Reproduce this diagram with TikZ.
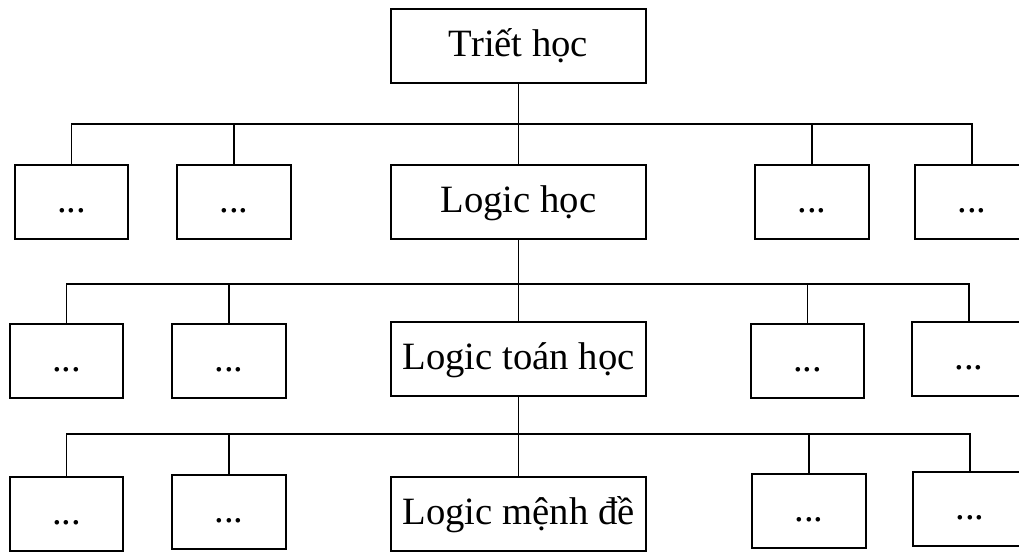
\documentclass[tikz,border=0pt]{standalone}
\usepackage{fontspec}
\setmainfont{Liberation Serif}
\begin{document}
\begin{tikzpicture}[x=0.75pt,y=-0.75pt,
  box/.style={draw, line width=1.4pt, minimum height=55.5pt, inner sep=0pt,
              text height=20pt, text depth=4pt,
              font=\fontsize{29}{33}\selectfont},
  mainbox/.style={box, minimum width=191.25pt},
  smallbox/.style={box, minimum width=85pt},
  link/.style={line width=1.4pt}]
\useasboundingbox (0,0) rectangle (1019,551);
\clip (0,0) rectangle (1019,551);
% level 0
\node[mainbox] (triet) at (518.5,46) {Triết học};
% level 1
\node[mainbox] (lh) at (518.5,202) {Logic học};
\node[smallbox] (a1) at (71.5,202) {...};
\node[smallbox] (a2) at (234,202) {...};
\node[smallbox] (a4) at (812,202) {...};
\node[smallbox] (a5) at (972,202) {...};
% level 2
\node[mainbox] (lt) at (518.5,359) {Logic toán học};
\node[smallbox] (b1) at (66.5,361) {...};
\node[smallbox] (b2) at (229,361) {...};
\node[smallbox] (b4) at (807.5,361) {...};
\node[smallbox] (b5) at (969,359) {...};
% level 3
\node[mainbox] (lm) at (518.5,514) {Logic mệnh đề};
\node[smallbox] (c1) at (66.5,514) {...};
\node[smallbox] (c2) at (229,512) {...};
\node[smallbox] (c4) at (809,511) {...};
\node[smallbox] (c5) at (970,509) {...};
% buses
\coordinate (bus1) at (518.5,124);
\coordinate (bus2) at (518.5,284);
\coordinate (bus3) at (518.5,434);
% connectors level 1
\draw[link] (triet.south) -- (lh.north);
\draw[link] (a1.north) |- (a5.north |- bus1) -- (a5.north);
\draw[link] (a2.north) -- (a2.north |- bus1);
\draw[link] (a4.north) -- (a4.north |- bus1);
% connectors level 2
\draw[link] (lh.south) -- (lt.north);
\draw[link] (b1.north) |- (b5.north |- bus2) -- (b5.north);
\draw[link] (b2.north) -- (b2.north |- bus2);
\draw[link] (b4.north) -- (b4.north |- bus2);
% connectors level 3
\draw[link] (lt.south) -- (lm.north);
\draw[link] (c1.north) |- (c5.north |- bus3) -- (c5.north);
\draw[link] (c2.north) -- (c2.north |- bus3);
\draw[link] (c4.north) -- (c4.north |- bus3);
\end{tikzpicture}
\end{document}
